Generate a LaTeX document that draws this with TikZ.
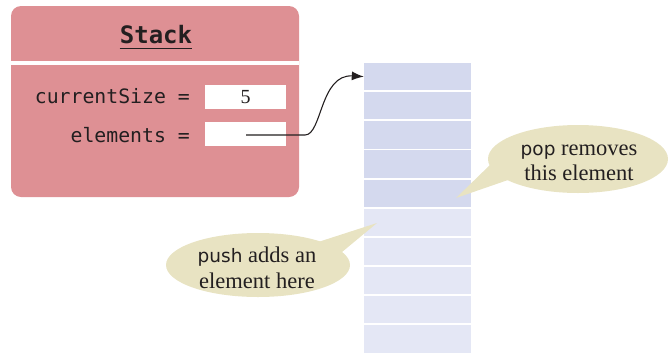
\documentclass[tikz,border=0pt]{standalone}
\usepackage{fontspec}
\setmainfont{Liberation Serif}
\setmonofont{DejaVu Sans Mono}
\newfontfamily\sansfam{DejaVu Sans}
\usetikzlibrary{shapes.geometric,arrows.meta}
\definecolor{stackpink}{RGB}{222,144,148}
\definecolor{celldark}{RGB}{212,217,238}
\definecolor{celllight}{RGB}{228,231,245}
\definecolor{calloutcol}{RGB}{232,227,194}
\definecolor{textcol}{RGB}{35,31,32}
\tikzset{
  cellbox/.style={rectangle, minimum width=107pt, minimum height=27.2pt, inner sep=0pt, draw=none},
  valbox/.style={rectangle, fill=white, minimum width=81pt, minimum height=24pt, inner sep=0pt, font=\fontsize{20}{24}\selectfont, text=textcol},
  codetext/.style={font=\ttfamily\fontsize{19.8}{24}\selectfont, text=textcol, inner sep=0pt},
  bubble/.style={ellipse, fill=calloutcol, inner sep=0pt},
  bubbletext/.style={align=center, font=\fontsize{22.5}{25.5}\selectfont, text=textcol, inner sep=0pt},
}
\newcommand{\sanw}[1]{{\sansfam\fontsize{18.5}{25.5}\selectfont #1}}
\begin{document}
\begin{tikzpicture}[x=1pt,y=-1pt]
\useasboundingbox (0,0) rectangle (669,354);
% Stack object
\fill[stackpink, rounded corners=10pt] (11,6) rectangle (299,197);
\fill[white] (11,61) rectangle (299,64.5);
\node[font=\ttfamily\bfseries\fontsize{24}{28}\selectfont, text=textcol, inner sep=0pt, anchor=base] (title) at (156,43) {Stack};
\draw[line width=1.8pt, textcol] ([yshift=-5.5pt]title.base west) -- ([yshift=-5.5pt]title.base east);
\node[codetext, anchor=base east] (lcs) at (190,103) {currentSize =};
\node[codetext, anchor=base east] (lel) at (190,142) {elements =};
\node[valbox] (b1) at (245.5,97) {5};
\node[valbox] (b2) at (245.5,134) {};
% array cells
\foreach \i in {0,...,4} {
  \node[cellbox, fill=celldark] (c\i) at (417.5, 76.6+\i*29.15) {};
}
\foreach \i in {5,...,9} {
  \node[cellbox, fill=celllight] (c\i) at (417.5, 76.6+\i*29.15) {};
}
% pointer
\coordinate (ptr) at (246,135);
\draw[line width=1.1pt, textcol, -{Latex[length=12pt,width=9pt]}] (ptr) -- (305,135) .. controls (322,135) and (320,74) .. (c0.west);
% pop callout
\coordinate (popTip) at (456,198);
\coordinate (popA) at (492,163);
\coordinate (popB) at (508,180);
\fill[calloutcol] (popA) -- (popTip) -- (popB) -- cycle;
\node[bubble, minimum width=180pt, minimum height=68pt] (popE) at (578,159) {};
\node[bubbletext] (popT) at (579,163) {\sanw{pop} removes\\this element};
% push callout
\coordinate (pushTip) at (377,223);
\coordinate (pushA) at (312,244);
\coordinate (pushB) at (336,257);
\fill[calloutcol] (pushA) -- (pushTip) -- (pushB) -- cycle;
\node[bubble, minimum width=184pt, minimum height=64pt] (pushE) at (258,265) {};
\node[bubbletext] (pushT) at (257,268) {\sanw{push} adds an\\element here};
\end{tikzpicture}
\end{document}
